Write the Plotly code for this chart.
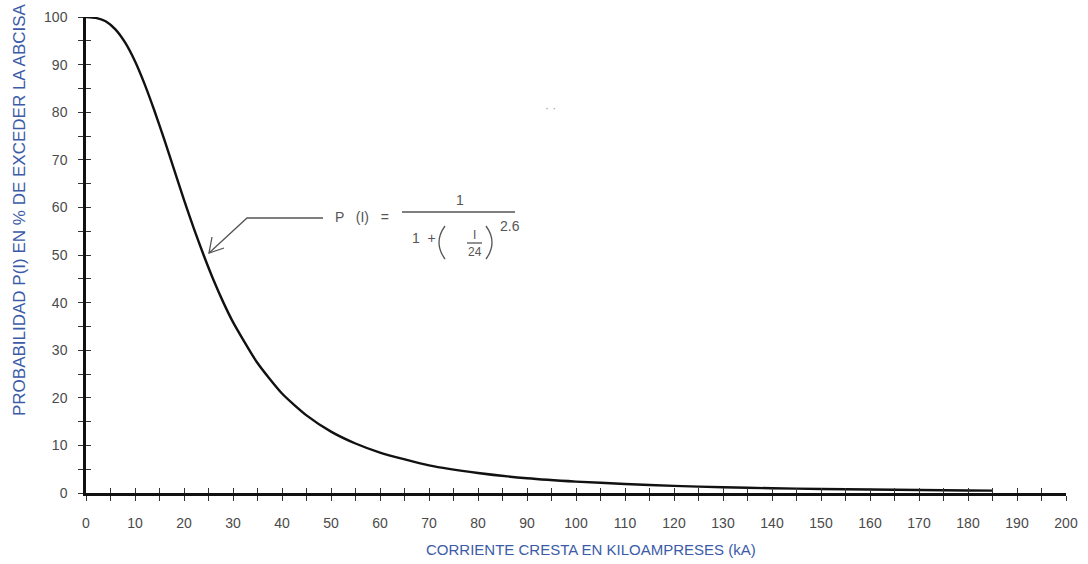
import plotly.graph_objects as go

# Values
corriente_ka = [0, 2, 4, 6, 8, 10, 12, 14, 16, 18, 20, 22, 24, 26, 28, 30, 35, 40, 45, 50,
                55, 60, 70, 80, 90, 100, 110, 120, 130, 140, 150, 160, 170, 180, 185]
probabilidad = [100, 99.8, 99.1, 97.4, 94.6, 90.7, 85.8, 80.2, 74.2, 67.9, 61.6, 55.6, 50.0,
                44.8, 40.1, 35.9, 27.3, 20.9, 16.3, 12.9, 10.4, 8.5, 5.8, 4.2, 3.1, 2.4,
                1.9, 1.5, 1.2, 1.0, 0.85, 0.72, 0.62, 0.53, 0.49]

x_ticks = list(range(0, 201, 10))
y_ticks = list(range(0, 101, 10))

# plot-area geometry (pixels)
L, R, T, B = 86, 22, 17, 71
W, H = 1088, 564
PW, PH = W - L - R, H - T - B


def px2x(px):
    return (px - L) / PW * 200


def px2y(py):
    return (H - B - py) / PH * 100


GRAY = "#4a4a4a"
BLUE = "#3b5ba8"
FONT = "Liberation Sans"

fig = go.Figure()
fig.add_trace(go.Scatter(x=corriente_ka, y=probabilidad, mode="lines",
                         line=dict(color="#111111", width=2.4, shape="spline", smoothing=0.6),
                         cliponaxis=False, showlegend=False, hoverinfo="skip"))
# helper invisible trace for the overlay axis with inward ticks
fig.add_trace(go.Scatter(x=[0, 200], y=[0, 100], mode="markers", marker=dict(opacity=0),
                         xaxis="x2", yaxis="y2", showlegend=False, hoverinfo="skip"))

axis_common = dict(showgrid=False, zeroline=False, ticklen=5, tickwidth=1.2, tickcolor="#333",
                   automargin=False)
fig.update_layout(
    width=W, height=H,
    margin=dict(l=L, r=R, t=T, b=B, autoexpand=False),
    plot_bgcolor="white", paper_bgcolor="white",
    font=dict(family=FONT, color=GRAY, size=14),
    xaxis=dict(range=[0, 200], tickvals=x_ticks, ticks="outside", showline=True,
               linecolor="#111", linewidth=2.5, ticklabelstandoff=10,
               minor=dict(dtick=5, ticks="outside", ticklen=5, tickcolor="#333", tickwidth=1.2),
               tickfont=dict(size=14, color=GRAY), **axis_common),
    yaxis=dict(range=[0, 100], tickvals=y_ticks, ticks="outside", showline=True,
               linecolor="#111", linewidth=2.5, ticklabelstandoff=8,
               minor=dict(dtick=5, ticks="outside", ticklen=5, tickcolor="#333", tickwidth=1.2),
               tickfont=dict(size=14, color=GRAY), **axis_common),
    xaxis2=dict(range=[0, 200], overlaying="x", anchor="y", side="bottom", dtick=5, tick0=0,
                ticks="inside", showticklabels=False, showline=False, **axis_common),
    yaxis2=dict(range=[0, 100], overlaying="y", anchor="x", side="left", dtick=5, tick0=0,
                ticks="inside", showticklabels=False, showline=False, **axis_common),
)

ann = []
# axis titles
ann.append(dict(text="PROBABILIDAD P(I) EN % DE EXCEDER LA ABCISA", xref="paper", yref="paper",
                x=(19 - L) / PW, y=(H - B - 210) / PH, textangle=-90, showarrow=False,
                font=dict(size=17, color=BLUE, family=FONT), xanchor="center", yanchor="middle"))
ann.append(dict(text="CORRIENTE CRESTA EN KILOAMPRESES (kA)", xref="paper", yref="paper",
                x=(591 - L) / PW, y=(H - B - 549) / PH, showarrow=False,
                font=dict(size=15, color=BLUE, family=FONT), xanchor="center", yanchor="middle"))


def txt(t, px, py, size=13):
    ann.append(dict(text=t, x=px2x(px), y=px2y(py), showarrow=False,
                    font=dict(size=size, color="#555555", family=FONT),
                    xanchor="center", yanchor="middle"))


txt("P   (I)   =", 362, 217, 14)
txt("1", 460, 200, 14)
txt("1  +", 424, 238, 14)
txt("I", 474, 235, 12)
txt("24", 475, 252, 12)
txt("2.6", 510, 226, 14)
ann.append(dict(text="· ·", x=px2x(550), y=px2y(108), showarrow=False,
                font=dict(size=12, color="#9a9ab0")))
fig.update_layout(annotations=ann)

line = dict(color="#555", width=1.3)
shapes = [
    dict(type="line", x0=px2x(402), x1=px2x(515), y0=px2y(212), y1=px2y(212), line=line),
    dict(type="line", x0=px2x(467), x1=px2x(482), y0=px2y(243), y1=px2y(243), line=line),
    # parentheses
    dict(type="path", path=f"M {px2x(445)},{px2y(226)} Q {px2x(433)},{px2y(242.5)} {px2x(445)},{px2y(259)}",
         line=line),
    dict(type="path", path=f"M {px2x(486)},{px2y(226)} Q {px2x(498)},{px2y(242.5)} {px2x(486)},{px2y(259)}",
         line=line),
    # pointer arrow
    dict(type="path", path=f"M {px2x(323)},{px2y(218)} L {px2x(247)},{px2y(218)} L {px2x(209)},{px2y(253)}",
         line=line),
    dict(type="path", path=f"M {px2x(212)},{px2y(237)} L {px2x(209)},{px2y(253)} L {px2x(224)},{px2y(248)}",
         line=line),
]
fig.update_layout(shapes=shapes)

fig.write_html("out.html", config={"displayModeBar": False},
               post_script="document.body.style.margin='0';document.body.style.overflow='hidden';")
